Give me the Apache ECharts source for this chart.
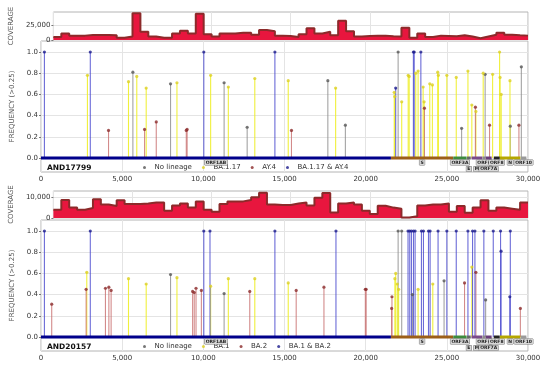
<!DOCTYPE html>
<html><head><meta charset="utf-8">
<script src="https://cdn.jsdelivr.net/npm/echarts@6/dist/echarts.min.js"></script>
<style>html,body{margin:0;padding:0;background:#fff}#c{width:550px;height:372px}</style>
</head><body><div id="c"></div>
<script>
// ---------- DATA ----------
const covBinSize = 500;
const cov1 = [5000,11000,7500,7500,8500,8500,8500,8000,4000,6000,
  46000,14000,6000,4000,4000,11000,16000,11000,45000,10000,
  6000,11000,11000,12500,12500,9000,17000,15000,7500,7000,
  5000,10000,20000,11000,14000,8000,33000,15000,6000,7000,
  7500,7500,6500,6000,21000,4000,11000,5000,7500,7000,
  6500,8000,6000,3000,6000,9000,12500,9000,8000,7500];
const cov2 = [4000,8700,5000,4000,4800,9000,6500,5800,8500,6800,
  6800,7000,7500,7500,3500,6000,7000,5000,8000,4000,
  3000,6800,8000,8000,8700,10000,12200,6500,6300,6300,
  7000,7500,6000,9800,12000,2700,7000,7500,6500,3500,
  1900,5900,5000,4500,200,800,6000,6500,6500,7000,
  3000,5800,2500,5000,8500,3500,5000,4500,4000,7500];

const xTicks = [0,5000,10000,15000,20000,25000,30000];
const freqTicks = [0,0.2,0.4,0.6,0.8,1.0];
const cov1Ticks = [0,25000];
const cov2Ticks = [0,10000];

const sample1 = 'AND17799';
const sample2 = 'AND20157';
const lineages1 = ['No lineage','BA.1.17','AY.4','BA.1.17 & AY.4'];
const lineages2 = ['No lineage','BA.1','BA.2','BA.1 & BA.2'];

// Panel 1 (AND17799)
const p1NonePos  = [5660,7980,11280,12700,17670,18750,22000,25910,27360,28910,29590];
const p1NoneFreq = [0.81,0.70,0.71,0.29,0.73,0.31,1.0,0.28,0.79,0.30,0.86];
const p1APos  = [2860,5390,5900,6480,8375,10450,11540,13170,15230,18150,21760,21790,22220,22620,22680,23085,23230,23540,23600,23950,24110,24440,24480,25000,25580,26300,26540,26790,27240,27820,28250,28280,28350,28890];
const p1AFreq = [0.78,0.72,0.77,0.66,0.71,0.78,0.67,0.75,0.73,0.66,0.62,0.58,0.53,0.78,0.77,0.80,0.82,0.67,0.53,0.70,0.69,0.81,0.78,0.78,0.76,0.82,0.50,0.44,0.80,0.79,1.0,0.76,0.60,0.73];
const p1BPos  = [4160,6380,7100,8950,9000,15430,23620,26760,27630,29440];
const p1BFreq = [0.26,0.27,0.34,0.26,0.27,0.26,0.47,0.48,0.31,0.31];
const p1ABPos  = [210,3037,10029,14408,21850,22940,22990,23400];
const p1ABFreq = [1.0,1.0,1.0,1.0,0.66,1.0,1.0,1.0];

// Panel 2 (AND20157)
const p2NonePos  = [7980,11280,22000,22220,22880,24830,27390];
const p2NoneFreq = [0.59,0.41,1.0,1.0,0.40,0.53,0.35];
const p2APos  = [2820,5390,6480,8375,10450,11540,13170,15230,21800,21850,21950,22030,23230,24135,26540];
const p2AFreq = [0.61,0.55,0.50,0.56,0.48,0.55,0.55,0.51,0.55,0.60,0.50,0.45,0.45,0.50,0.66];
const p2BPos  = [660,2780,3970,4180,4320,9340,9440,9550,9880,12860,15720,17430,19980,20030,21600,21620,26090,26790,29530];
const p2BFreq = [0.31,0.45,0.46,0.47,0.44,0.43,0.42,0.46,0.44,0.43,0.44,0.47,0.45,0.45,0.27,0.38,0.51,0.61,0.27];
const p2ABPos  = [210,3037,10029,10410,14408,18170,22610,22715,22820,22945,23045,23435,23560,23870,23970,24460,25000,25580,26300,26585,26730,27280,27860,28310,28340,28880,28910];
const p2ABFreq = [1.0,1.0,1.0,1.0,1.0,1.0,1.0,1.0,1.0,1.0,1.0,1.0,1.0,1.0,1.0,1.0,1.0,1.0,1.0,1.0,1.0,1.0,1.0,1.0,0.81,0.38,1.0];

const geneNames = ['ORF1AB','S','ORF3A','E','M','ORF6','ORF7A','ORF8','N','ORF10'];
const geneStart = [0,21563,25393,26245,26523,27202,27394,27894,28274,29558];
const geneEnd   = [21555,25384,26220,26472,27191,27387,27759,28259,29533,29900];

// ---------- STYLE ----------
const geneColors = ['#00008b','#9c5f18','#3d8b3d','#666666','#7a4a8a','#8a8a8a','#6a3d7a','#222222','#b5a600','#9a9a9a'];
const geneLabelRow = [0,0,0,1,1,0,1,0,0,0];
const stemColors = ['rgba(140,140,140,0.8)','rgba(238,238,40,0.9)','rgba(200,110,110,0.8)','rgba(70,70,205,0.8)'];
const markColors = ['#555555','#dcd020','#8b2b2b','#1c1c8c'];
const FONT = 'DejaVu Sans';

const pairs = (p, f) => p.map((x, i) => [x, f[i]]);
const covData = arr => { const d = arr.map((v, i) => [i * covBinSize, v]); d.push([arr.length * covBinSize, arr[arr.length-1]]); return d; };
const fmtComma = v => Math.round(v).toLocaleString('en-US');

function stemRender(color) {
  return function (params, api) {
    const x = api.value(0), y = api.value(1);
    const p0 = api.coord([x, 0]), p1 = api.coord([x, y]);
    return { type: 'line', shape: { x1: p0[0], y1: p0[1], x2: p1[0], y2: p1[1] }, style: { stroke: color, lineWidth: 1.1 } };
  };
}
function geneRender(params, api) {
  const i = api.value(2);
  const a = api.coord([api.value(0), 0]), b = api.coord([api.value(1), 0]);
  const mid = api.coord([(api.value(0) + api.value(1)) / 2, 0]);
  const row = geneLabelRow[i];
  return { type: 'group', children: [
    { type: 'rect', shape: { x: a[0], y: a[1] - 1.5, width: Math.max(1, b[0] - a[0]), height: 3 }, style: { fill: geneColors[i] } },
    { type: 'text', style: { text: geneNames[i], x: mid[0], y: a[1] + 4.5 + row * 6.5, align: 'center', verticalAlign: 'middle',
        fill: '#222', fontSize: 4.5, fontWeight: 'bold', fontFamily: FONT, backgroundColor: '#d8d8d8', borderColor: '#777', borderWidth: 0.5, padding: [0, 1] } }
  ]};
}

const grids = [
  { left: 41, right: 22, top: 12, height: 28 },
  { left: 41, right: 22, top: 41, height: 131 },
  { left: 41, right: 22, top: 191, height: 27 },
  { left: 41, right: 22, top: 220, height: 131 }
].map(g => Object.assign(g, { show: true, borderColor: '#b4b4b4', borderWidth: 1, backgroundColor: 'transparent' }));

const xAxes = [0,1,2,3].map(i => ({
  type: 'value', gridIndex: i, min: 0, max: 30000, interval: 5000,
  axisLine: { show: false }, axisTick: { show: false },
  splitLine: { show: true, lineStyle: { color: '#e4e4e4', width: 1 } },
  axisLabel: { show: i % 2 === 1, formatter: fmtComma, fontSize: 7, color: '#333', fontFamily: FONT, margin: 4,
    customValues: xTicks }
}));

function covY(gi, max, ticks) {
  return { type: 'value', gridIndex: gi, min: 0, max: max,
    name: 'COVERAGE', nameLocation: 'middle', nameGap: 24, nameRotate: 90,
    nameTextStyle: { fontSize: 7, color: '#555', fontFamily: FONT },
    axisLine: { show: false },
    axisTick: { show: true, length: 2, customValues: ticks, lineStyle: { color: '#777' } },
    axisLabel: { customValues: ticks, formatter: fmtComma, fontSize: 7, color: '#333', fontFamily: FONT, margin: 3 },
    splitLine: { show: true, lineStyle: { color: '#e4e4e4' } } };
}
function freqY(gi) {
  return { type: 'value', gridIndex: gi, min: -0.132, max: 1.104,
    name: 'FREQUENCY (>0.25)', nameLocation: 'middle', nameGap: 17, nameRotate: 90,
    nameTextStyle: { fontSize: 7, color: '#555', fontFamily: FONT },
    axisLine: { show: false },
    axisTick: { show: true, length: 2, customValues: freqTicks, lineStyle: { color: '#777' } },
    axisLabel: { customValues: freqTicks, formatter: v => v.toFixed(1), fontSize: 7, color: '#333', fontFamily: FONT, margin: 3 },
    splitLine: { show: true, lineStyle: { color: '#e4e4e4' } } };
}

function covSeries(gi, arr) {
  return { type: 'line', xAxisIndex: gi, yAxisIndex: gi, step: 'end', data: covData(arr), symbol: 'none',
    lineStyle: { color: '#8c2a2a', width: 2 }, areaStyle: { color: '#e8163e', opacity: 1, origin: 'start' }, silent: true, z: 2 };
}
function lineageSeries(gi, names, posArr, freqArr) {
  const out = [];
  names.forEach((n, k) => {
    const d = pairs(posArr[k], freqArr[k]);
    out.push({ type: 'custom', name: 'stem' + gi + '_' + k, xAxisIndex: gi, yAxisIndex: gi, renderItem: stemRender(stemColors[k]),
      data: d, encode: { x: 0, y: 1 }, silent: true, z: 3 });
  });
  names.forEach((n, k) => {
    const d = pairs(posArr[k], freqArr[k]);
    out.push({ type: 'scatter', name: n, xAxisIndex: gi, yAxisIndex: gi, data: d, symbolSize: 3.2,
      itemStyle: { color: markColors[k] }, silent: true, z: 4 });
  });
  return out;
}
function geneSeries(gi) {
  return { type: 'custom', xAxisIndex: gi, yAxisIndex: gi, renderItem: geneRender, silent: true, z: 6,
    data: geneNames.map((n, i) => [geneStart[i], geneEnd[i], i]), encode: { x: [0, 1] } };
}

const legendBase = { orient: 'horizontal', icon: 'circle', itemWidth: 10, itemHeight: 3, itemGap: 10, padding: 0,
  textStyle: { fontSize: 7, color: '#333', fontFamily: FONT }, selectedMode: false };

const option = {
  animation: false,
  backgroundColor: '#fff',
  grid: grids,
  xAxis: xAxes,
  yAxis: [covY(0, 48000, cov1Ticks), freqY(1), covY(2, 13000, cov2Ticks), freqY(3)],
  legend: [
    Object.assign({}, legendBase, { data: lineages1, left: 143, top: 164 }),
    Object.assign({}, legendBase, { data: lineages2, left: 143, top: 343 })
  ],
  title: [
    { text: sample1, left: 47, top: 164, padding: 0, textStyle: { fontSize: 7.5, fontWeight: 'bold', color: '#111', fontFamily: FONT } },
    { text: sample2, left: 47, top: 343, padding: 0, textStyle: { fontSize: 7.5, fontWeight: 'bold', color: '#111', fontFamily: FONT } }
  ],
  series: [
    covSeries(0, cov1),
    ...lineageSeries(1, lineages1, [p1NonePos, p1APos, p1BPos, p1ABPos], [p1NoneFreq, p1AFreq, p1BFreq, p1ABFreq]),
    geneSeries(1),
    covSeries(2, cov2),
    ...lineageSeries(3, lineages2, [p2NonePos, p2APos, p2BPos, p2ABPos], [p2NoneFreq, p2AFreq, p2BFreq, p2ABFreq]),
    geneSeries(3)
  ]
};
const chart = echarts.init(document.getElementById('c'), null, { renderer: 'canvas' });
chart.setOption(option);
</script></body></html>
